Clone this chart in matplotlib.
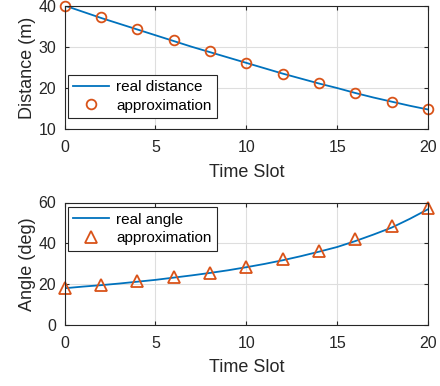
import matplotlib
matplotlib.use("Agg")
import matplotlib.pyplot as plt

plt.rcParams['font.family'] = ['Liberation Sans', 'DejaVu Sans']

# Data
t_line = list(range(0, 21))
dist_line = [40.0, 38.5, 37.0, 35.6, 34.2, 32.8, 31.4, 30.0, 28.7, 27.4, 26.1,
             24.8, 23.5, 22.3, 21.1, 20.0, 18.8, 17.7, 16.7, 15.7, 14.8]
t_approx = [0, 2, 4, 6, 8, 10, 12, 14, 16, 18, 20]
dist_approx = [40.0, 37.1, 34.3, 31.6, 28.9, 26.1, 23.5, 21.1, 18.9, 16.7, 14.8]

angle_line = [18.0, 18.8, 19.5, 20.3, 21.2, 22.1, 23.2, 24.3, 25.5, 26.8, 28.3,
              29.9, 31.7, 33.7, 35.9, 38.2, 41.1, 44.3, 47.7, 52.0, 56.7]
angle_approx = [18.3, 19.6, 21.4, 23.4, 25.7, 28.6, 32.1, 36.3, 41.9, 48.6, 57.2]

xticks = [0, 5, 10, 15, 20]
dist_ticks = [10, 20, 30, 40]
angle_ticks = [0, 20, 40, 60]

BLUE = '#0072BD'
ORANGE = '#D95319'
AX = '#262626'

fig = plt.figure(figsize=(4.4, 3.86), dpi=100)
ax1 = fig.add_axes([64.5/440, 1-129.3/386, (428-64.5)/440, (129.3-5.5)/386])
ax2 = fig.add_axes([64.5/440, 1-325/386, (428-64.5)/440, (325-202.5)/386])

def style(ax, yticks, ylim, ylabel):
    ax.set_xlim(0, 20)
    ax.set_ylim(*ylim)
    ax.set_xticks(xticks)
    ax.set_yticks(yticks)
    ax.grid(True, color='#dedede', linewidth=0.8)
    ax.set_axisbelow(True)
    ax.tick_params(direction='in', labelsize=11.5, colors=AX, length=3, top=True, right=True,
                   labelcolor=AX)
    ax.tick_params(axis='x', pad=8)
    ax.tick_params(axis='y', pad=6)
    for s in ax.spines.values():
        s.set_color(AX)
        s.set_linewidth(0.8)
    ax.set_xlabel('Time Slot', fontsize=13, color=AX, labelpad=5.9)
    ax.set_ylabel(ylabel, fontsize=13, color=AX, labelpad=2)

ax1.plot(t_line, dist_line, color=BLUE, lw=1.3, label='real distance')
ax1.plot(t_approx, dist_approx, 'o', mfc='none', mec=ORANGE, mew=1.3, ms=7,
         label='approximation', clip_on=False)
style(ax1, dist_ticks, (10, 40), 'Distance (m)')
leg1 = ax1.legend(loc='lower left', bbox_to_anchor=(0.01, 0.09), fontsize=11,
                  frameon=True, fancybox=False, edgecolor=AX, framealpha=1,
                  handlelength=2.3, borderpad=0.35, labelspacing=0.3, handletextpad=0.5,
                  borderaxespad=0)
leg1.get_frame().set_linewidth(0.8)

ax2.plot(t_line, angle_line, color=BLUE, lw=1.3, label='real angle')
ax2.plot(t_approx, angle_approx, '^', mfc='none', mec=ORANGE, mew=1.3, ms=8,
         label='approximation', clip_on=False)
style(ax2, angle_ticks, (0, 60), 'Angle (deg)')
leg2 = ax2.legend(loc='upper left', bbox_to_anchor=(0.01, 0.96), fontsize=11,
                  frameon=True, fancybox=False, edgecolor=AX, framealpha=1,
                  handlelength=2.3, borderpad=0.35, labelspacing=0.3, handletextpad=0.5,
                  borderaxespad=0)
leg2.get_frame().set_linewidth(0.8)

fig.savefig('out.png', dpi=100)
